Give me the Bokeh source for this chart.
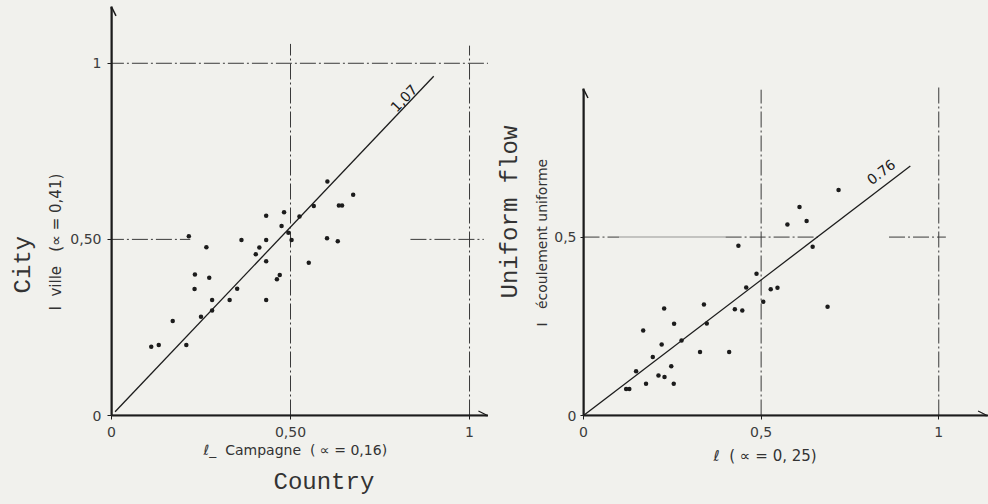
import math
from bokeh.plotting import figure
from bokeh.layouts import row
from bokeh.models import Range1d, FixedTicker, Label, Arrow, OpenHead, Title
from bokeh.embed import file_html
from bokeh.resources import INLINE

# --- Panel 1: city vs. country --------------------------------------------
campagne = [0.111, 0.132, 0.171, 0.209, 0.216, 0.233, 0.232, 0.250, 0.265, 0.273,
            0.281, 0.281, 0.330, 0.351, 0.363, 0.403, 0.413, 0.432, 0.432, 0.432,
            0.432, 0.462, 0.470, 0.475, 0.482, 0.494, 0.503, 0.525, 0.551, 0.565,
            0.603, 0.602, 0.632, 0.635, 0.644, 0.675]
ville = [0.195, 0.200, 0.268, 0.200, 0.509, 0.400, 0.359, 0.280, 0.478, 0.391,
         0.328, 0.298, 0.328, 0.360, 0.498, 0.458, 0.477, 0.567, 0.498, 0.438,
         0.328, 0.387, 0.399, 0.538, 0.577, 0.519, 0.498, 0.565, 0.434, 0.595,
         0.664, 0.503, 0.495, 0.596, 0.596, 0.627]
slope_ville = 1.07
ticks_1x = [0, 0.5, 1]
labels_1x = ["0", "0,50", "1"]
ticks_1y = [0, 0.5, 1]
labels_1y = ["0", "0,50", "1"]

# --- Panel 2: uniform flow --------------------------------------------------
ell = [0.120, 0.129, 0.148, 0.168, 0.176, 0.195, 0.211, 0.220, 0.228, 0.227,
       0.247, 0.255, 0.254, 0.276, 0.328, 0.339, 0.347, 0.410, 0.426, 0.447,
       0.436, 0.458, 0.487, 0.506, 0.527, 0.546, 0.574, 0.608, 0.628, 0.645,
       0.687, 0.718]
uniforme = [0.074, 0.074, 0.124, 0.238, 0.089, 0.164, 0.112, 0.199, 0.108, 0.300,
            0.138, 0.257, 0.089, 0.210, 0.178, 0.311, 0.258, 0.178, 0.298, 0.294,
            0.476, 0.359, 0.397, 0.319, 0.354, 0.358, 0.535, 0.584, 0.545, 0.473,
            0.305, 0.632]
slope_uniforme = 0.76
ticks_2x = [0, 0.5, 1]
labels_2x = ["0", "0,5", "1"]
ticks_2y = [0, 0.5]
labels_2y = ["0", "0,5"]

PAPER = "#f1f1ed"
INK = "#1c1c1c"
TEXT = "#333333"
SANS = "DejaVu Sans"
MONO = "Liberation Mono"
DASHDOT = "16 3 2 3"
SP = "\u00a0"


def make_panel(width, left, xmax, ymax):
    p = figure(width=width, height=504, output_backend="svg", toolbar_location=None,
               x_range=Range1d(0, xmax), y_range=Range1d(0, ymax),
               min_border_left=left, min_border_right=0,
               min_border_top=5, min_border_bottom=87)
    p.background_fill_color = PAPER
    p.border_fill_color = PAPER
    p.outline_line_color = None
    p.grid.visible = False
    return p


def style_axes(p, xt, xl, yt, yl, ybounds, y_out, y_standoff):
    p.xaxis.ticker = FixedTicker(ticks=xt)
    p.yaxis.ticker = FixedTicker(ticks=yt)
    p.xaxis.major_label_overrides = {t: s for t, s in zip(xt, xl)}
    p.yaxis.major_label_overrides = {t: s for t, s in zip(yt, yl)}
    for ax in (p.xaxis, p.yaxis):
        ax.axis_line_color = INK
        ax.axis_line_width = 2
        ax.major_tick_line_color = INK
        ax.major_tick_in = 0
        ax.minor_tick_line_color = None
        ax.major_label_text_font = SANS
        ax.major_label_text_font_size = "14px"
        ax.major_label_text_color = "#3c3c3c"
    p.xaxis.major_tick_out = 4
    p.xaxis.major_label_standoff = 7
    p.yaxis.major_tick_out = y_out
    p.yaxis.major_label_standoff = y_standoff
    p.yaxis.bounds = ybounds


def side_text(p, side, text, font, size, standoff, offset):
    # align="left" anchors the text start at `offset` px from the frame's start edge
    p.add_layout(Title(text=text, align="left", offset=offset, standoff=standoff,
                       text_font=font, text_font_size=size, text_font_style="normal",
                       text_color=TEXT), side)


def px_scale(p):
    fw = p.width - p.min_border_left - p.min_border_right
    fh = p.height - p.min_border_top - p.min_border_bottom
    return fw / p.x_range.end, fh / p.y_range.end


def slope_label(p, slope, x_at, gap_px, text):
    sx, sy = px_scale(p)
    ang = math.atan(slope * sy / sx)
    x = x_at - gap_px * math.sin(ang) / sx
    y = slope * x_at + gap_px * math.cos(ang) / sy
    p.add_layout(Label(x=x, y=y, text=text, angle=ang, text_align="center",
                       text_baseline="bottom", text_font=SANS,
                       text_font_size="14px", text_color=INK))


def axis_arrows(p, y_top, x_right):
    p.add_layout(Arrow(end=OpenHead(size=9, line_color=INK, line_width=1.5),
                       x_start=0, y_start=0, x_end=0, y_end=y_top,
                       line_color=INK, line_width=2))
    p.add_layout(Arrow(end=OpenHead(size=9, line_color=INK, line_width=1.2),
                       x_start=0, y_start=0, x_end=x_right, y_end=0,
                       line_color=INK, line_width=1.5))


grid_kw = dict(line_color="#3a3a3a", line_width=1, line_dash=DASHDOT)

# ---------------- left panel ----------------
p1 = make_panel(488, 111, 1.053, 1.164)
style_axes(p1, ticks_1x, labels_1x, ticks_1y, labels_1y, (0, 1.16), 4, 6)
side_text(p1, "left", f"I{SP}{SP}ville{SP}{SP}{SP}(∝ = 0,41)", SANS, "15px", 6, 105)
side_text(p1, "left", "City", MONO, "24px", 10, 122)
side_text(p1, "below", f"ℓ_{SP}{SP}Campagne{SP}{SP}( ∝ = 0,16)", SANS, "14px", 1, 92)
side_text(p1, "below", "Country", MONO, "24px", 17, 162)

p1.segment(x0=[0.5, 1.0, -0.01, -0.01, 0.835], y0=[0, 0, 1, 0.5, 0.5],
           x1=[0.5, 1.0, 1.067, 0.22, 1.04], y1=[1.055, 1.05, 1, 0.5, 0.5], **grid_kw)

x_fit1 = [0.01, 0.9]
p1.line(x_fit1, [slope_ville * v for v in x_fit1], line_color=INK, line_width=1.3)
p1.scatter(campagne, ville, size=4.5, fill_color=INK, line_color=None)
slope_label(p1, slope_ville, 0.83, 1.5, "1,07")
axis_arrows(p1, 1.16, 1.05)

# ---------------- right panel ----------------
p2 = make_panel(500, 94, 1.140, 1.149)
style_axes(p2, ticks_2x, labels_2x, ticks_2y, labels_2y, (0, 0.915), 3, 4)
side_text(p2, "left", f"I{SP}{SP}{SP}écoulement uniforme", SANS, "14px", 4, 89)
side_text(p2, "left", "Uniform flow", MONO, "24px", 12, 117)
side_text(p2, "below", f"ℓ{SP}{SP}( ∝ = 0, 25)", SANS, "15px", 10, 130)

p2.segment(x0=[0.5, 1.0, 0.0, 0.4, 0.86], y0=[0, 0, 0.5, 0.5, 0.5],
           x1=[0.5, 1.0, 0.1, 0.66, 1.02], y1=[0.913, 0.924, 0.5, 0.5, 0.5], **grid_kw)
p2.segment(x0=[0.1], y0=[0.5], x1=[0.4], y1=[0.5], line_color="#3a3a3a",
           line_alpha=0.25, line_width=2)

x_fit2 = [0.0, 0.92]
p2.line(x_fit2, [slope_uniforme * v for v in x_fit2], line_color=INK, line_width=1.3)
p2.scatter(ell, uniforme, size=4.5, fill_color=INK, line_color=None)
slope_label(p2, slope_uniforme, 0.86, 8, "0.76")
axis_arrows(p2, 0.915, 1.136)

layout = row(p1, p2, spacing=0)
layout.styles = {"background-color": PAPER}
open("out.html", "w").write(file_html(layout, INLINE))
